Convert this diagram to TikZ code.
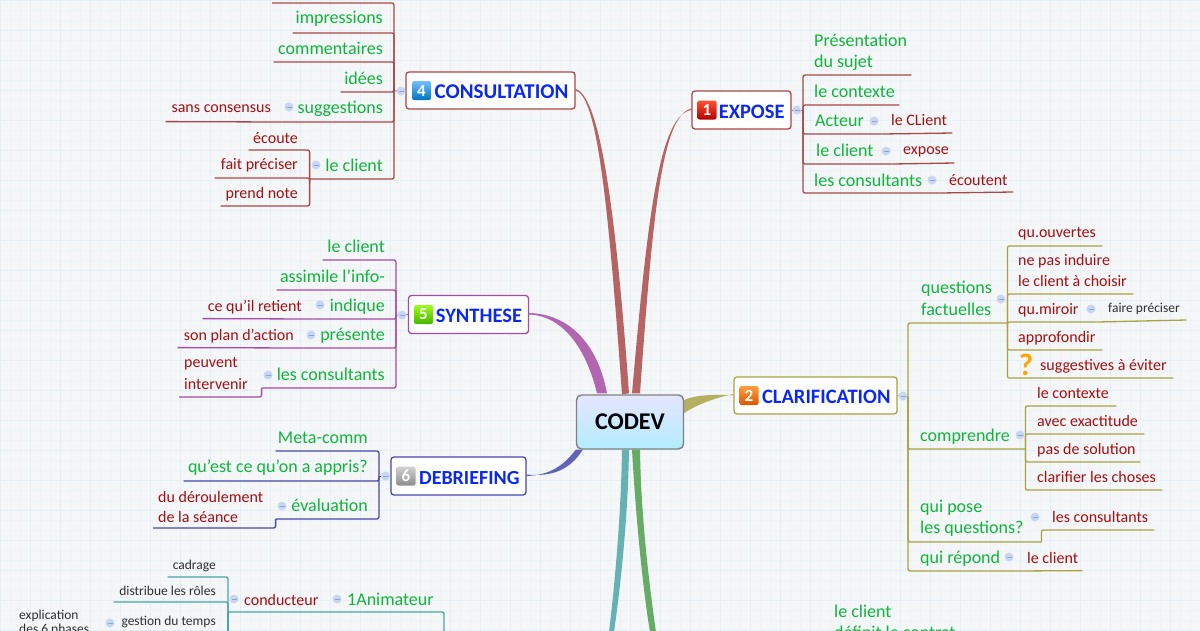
\documentclass[tikz,border=0pt]{standalone}
\usepackage{fontspec}
\setmainfont{Carlito}
\usetikzlibrary{backgrounds,positioning}
\definecolor{sheet}{HTML}{F4F6F8}
\definecolor{gridminor}{HTML}{EEF3F6}
\definecolor{gridmajor}{HTML}{E4EFF6}
\definecolor{topicgreen}{HTML}{10B53C}
\definecolor{topicred}{HTML}{A50F12}
\definecolor{topicblack}{HTML}{303030}
\definecolor{titleblue}{HTML}{0A28F0}
\definecolor{brownline}{HTML}{A84848}
\definecolor{oliveline}{HTML}{A8A244}
\definecolor{purpleline}{HTML}{A54BA5}
\definecolor{indigoline}{HTML}{4848A8}
\definecolor{tealline}{HTML}{4BA5A5}
\definecolor{foldfill}{HTML}{C8D6F0}
\definecolor{folddash}{HTML}{8AA5D5}
\tikzset{
  lt/.style={anchor=south east, text width=#1pt, align=flush right, inner xsep=0pt, inner ysep=3pt, text height=10pt, text depth=4pt},
  rt/.style={anchor=south west, text width=#1pt, align=flush left, inner xsep=0pt, inner ysep=3pt, text height=10pt, text depth=4pt},
  gr/.style={text=topicgreen, font=\fontsize{18}{21}\selectfont},
  re/.style={text=topicred, font=\fontsize{16}{20}\selectfont},
  bk/.style={text=topicblack, font=\fontsize{13.5}{16}\selectfont},
  hub/.style={draw=#1, fill=white, rounded corners=3pt, line width=1.3pt, text=titleblue, align=flush right, inner xsep=6.5pt, inner ysep=0pt, text height=16pt, text depth=0pt, font=\bfseries\fontsize{20.5}{22}\selectfont},
  badge/.style 2 args={rounded corners=2pt, top color=#1, bottom color=#2, text=white, minimum size=19pt, inner sep=0pt, font=\bfseries\fontsize{17}{18}\selectfont},
  fold/.style={circle, fill=foldfill, minimum size=9pt, inner sep=0pt, path picture={\draw[folddash, line width=0.7pt] ([xshift=-2.5pt]path picture bounding box.center) -- ([xshift=2.5pt]path picture bounding box.center);}},
  branch/.style={rounded corners=2pt, line width=1.3pt}
}
\begin{document}
\begin{tikzpicture}[x=1pt, y=-1pt]
  \useasboundingbox (0,0) rectangle (1200,630);
  \clip (0,0) rectangle (1200,630);

  % central topic
  \node[draw=black!50, rounded corners=5pt, line width=1.4pt, top color=blue!10!white, bottom color=blue!25!cyan!30!white, minimum width=107pt, minimum height=54pt, inner sep=0pt, font=\bfseries\fontsize{24}{26}\selectfont] (codev) at (630,422) {CODEV};

  % main topics
  \node[hub=brownline, minimum width=169pt, minimum height=37pt, text width=156pt, font=\bfseries\fontsize{21}{22}\selectfont] (consultation) at (490.5,90.5) {CONSULTATION};
  \node[badge={cyan!55!blue!55!white}{cyan!60!blue!75!black}, right=6.5pt of consultation.west] (badgefour) {4};
  \node[hub=brownline, minimum width=99pt, minimum height=38pt, text width=86pt] (expose) at (741.5,110) {EXPOSE};
  \node[badge={red!70!orange!80!white}{red!70!black}, right=6pt of expose.west] (badgeone) {1};
  \node[hub=oliveline, minimum width=163pt, minimum height=37pt, text width=150pt] (clarification) at (815.5,395.5) {CLARIFICATION};
  \node[badge={orange!75!white}{orange!80!red!85!black}, right=6pt of clarification.west] (badgetwo) {2};
  \node[hub=purpleline, minimum width=120pt, minimum height=38pt, text width=107pt] (synthese) at (468.5,314.5) {SYNTHESE};
  \node[badge={lime!75!green!90!white}{lime!55!green!70!black}, right=6pt of synthese.west] (badgefive) {5};
  \node[hub=indigoline, minimum width=135pt, minimum height=38pt, text width=122pt, font=\bfseries\fontsize{20}{22}\selectfont] (debriefing) at (458.5,476) {DEBRIEFING};
  \node[badge={black!18}{black!45}, right=6pt of debriefing.west] (badgesix) {6};

  % junctions of the brackets
  \coordinate (consbar) at (394,91);
  \coordinate (exposebar) at (803,110);
  \coordinate (clarbar) at (908,396);
  \coordinate (synthbar) at (396,315);
  \coordinate (debrbar) at (379,476);
  \coordinate (animbar) at (444,632);

  % CONSULTATION
  \coordinate (constop) at (272,3);
  \node[lt=90, gr, inner ysep=5.5pt] (impressions) at (383,33) {impressions};
  \node[lt=109, gr] (commentaires) at (383,62) {commentaires};
  \node[lt=42, gr] (idees) at (383,92) {idées};
  \node[lt=101, gr, inner ysep=4.5pt] (suggestions) at (383,122) {suggestions};
  \node[lt=105, re, inner ysep=4.5pt] (consensus) at (271,121.6) {sans consensus};
  \node[lt=73, gr] (leclientc) at (383,179) {le client};
  \node[lt=49, re, inner ysep=2.5pt] (ecoute) at (298,150) {écoute};
  \node[lt=83, re, inner ysep=4.5pt] (faitpreciser) at (298,178) {fait préciser};
  \node[lt=77, re] (prendnote) at (298,206) {prend note};
  \draw[branch, brownline] (consbar) |- (constop);
  \draw[branch, brownline] (consbar) |- (impressions.south west);
  \draw[branch, brownline] (consbar) |- (commentaires.south west);
  \draw[branch, brownline] (consbar) |- (idees.south west);
  \draw[branch, brownline] (consbar) |- (suggestions.south west);
  \draw[branch, brownline] (suggestions.south west) -- (consensus.south west);
  \draw[branch, brownline] (consbar) |- (leclientc.south west);
  \draw[branch, brownline] (leclientc.south west) |- (ecoute.south west);
  \draw[branch, brownline] (leclientc.south west) |- (faitpreciser.south west);
  \draw[branch, brownline] (leclientc.south west) |- (prendnote.south west);
  \draw[brownline, line width=0.8pt] (consultation.west) -- (consbar);

  % EXPOSE
  \node[rt=97, gr, inner ysep=3pt, text depth=25pt] (presentation) at (814,75) {Présentation\\du sujet};
  \node[rt=85, gr] (contexte) at (814,105) {le contexte};
  \node[rt=67, gr] (acteur) at (815,134) {Acteur};
  \node[rt=61, re] (leclient) at (891,133) {le CLient};
  \node[rt=76, gr] (leclientb) at (816,164) {le client};
  \node[rt=51, re, inner ysep=4.5pt] (exposeleaf) at (903,163) {expose};
  \node[rt=125, gr, inner ysep=2pt] (lesconsultants) at (814,193) {les consultants};
  \node[rt=64, re, inner ysep=2pt] (ecoutent) at (949,192) {écoutent};
  \draw[branch, brownline] (exposebar) |- (presentation.south east);
  \draw[branch, brownline] (exposebar) |- (contexte.south east);
  \draw[branch, brownline] (exposebar) |- (acteur.south east);
  \draw[branch, brownline] (acteur.south east) -- (leclient.south east);
  \draw[branch, brownline] (exposebar) |- (leclientb.south east);
  \draw[branch, brownline] (leclientb.south east) -- (exposeleaf.south east);
  \draw[branch, brownline] (exposebar) |- (lesconsultants.south east);
  \draw[branch, brownline] (lesconsultants.south east) -- (ecoutent.south east);
  \draw[brownline, line width=0.8pt] (expose.east) -- (exposebar);

  % CLARIFICATION
  \node[rt=86, gr, text depth=26pt] (questions) at (921,323) {questions\\[1pt]factuelles};
  \node[rt=84, re, inner ysep=4.5pt] (ouvertes) at (1018,246) {qu.ouvertes};
  \node[rt=115, re, text depth=25pt] (induire) at (1018,294) {ne pas induire\\[1pt]le client à choisir};
  \node[rt=79, re] (miroir) at (1018,322) {qu.miroir};
  \node[rt=78, bk] (preciser) at (1108,320) {faire préciser};
  \node[rt=84, re] (approfondir) at (1018,350) {approfondir};
  \node[rt=133, re] (suggestives) at (1040,378) {suggestives à éviter};
  \node[text=orange!70!yellow, inner sep=0pt, font=\bfseries\fontsize{31}{32}\selectfont] (doubt) at (1026,365) {?};
  \node[rt=105, gr] (comprendre) at (920,449) {comprendre};
  \node[rt=79, re] (contexteb) at (1037,406) {le contexte};
  \node[rt=107, re] (exactitude) at (1037,434) {avec exactitude};
  \node[rt=103, re] (solution) at (1037,462) {pas de solution};
  \node[rt=125, re] (clarifier) at (1037,490) {clarifier les choses};
  \node[rt=121, gr, inner ysep=4.5pt, text depth=25pt] (quipose) at (920,542) {qui pose\\les questions?};
  \node[rt=102, re] (consultantsb) at (1052,530) {les consultants};
  \node[rt=95, gr, inner ysep=3.5pt] (quirepond) at (920,571) {qui répond};
  \node[rt=55, re] (clientc) at (1027,570.6) {le client};
  \draw[branch, oliveline] (clarbar) |- (questions.south east);
  \draw[branch, oliveline] (clarbar) |- (comprendre.south east);
  \draw[branch, oliveline] (clarbar) |- (quipose.south east);
  \draw[branch, oliveline] (clarbar) |- (quirepond.south east);
  \draw[branch, oliveline] (questions.south east) |- (ouvertes.south east);
  \draw[branch, oliveline] (questions.south east) |- (induire.south east);
  \draw[branch, oliveline] (questions.south east) |- (miroir.south east);
  \draw[branch, oliveline] (miroir.south east) -- (preciser.south east);
  \draw[branch, oliveline] (questions.south east) |- (approfondir.south east);
  \draw[branch, oliveline] (questions.south east) |- (suggestives.south east);
  \draw[branch, oliveline] (comprendre.south east) |- (contexteb.south east);
  \draw[branch, oliveline] (comprendre.south east) |- (exactitude.south east);
  \draw[branch, oliveline] (comprendre.south east) |- (solution.south east);
  \draw[branch, oliveline] (comprendre.south east) |- (clarifier.south east);
  \draw[branch, oliveline] (quipose.south east) |- (consultantsb.south east);
  \draw[branch, oliveline] (quirepond.south east) -- (clientc.south east);
  \draw[oliveline, line width=0.8pt] (clarification.east) -- (clarbar);

  % SYNTHESE
  \node[lt=62, gr] (leclients) at (385,260) {le client};
  \node[lt=108, gr] (assimile) at (385,290) {assimile l'info-};
  \node[lt=71, gr, inner ysep=3.5pt] (indique) at (385,319) {indique};
  \node[lt=99, re] (retient) at (302,318.6) {ce qu'il retient};
  \node[lt=81, gr] (presente) at (385,348) {présente};
  \node[lt=116, re] (plan) at (294,347.6) {son plan d'action};
  \node[lt=123, gr] (consultantss) at (385,388) {les consultants};
  \node[rt=73, re, inner xsep=5pt, text depth=26pt] (peuvent) at (179,397) {peuvent\\[2pt]intervenir};
  \draw[branch, purpleline] (synthbar) |- (leclients.south west);
  \draw[branch, purpleline] (synthbar) |- (assimile.south west);
  \draw[branch, purpleline] (synthbar) |- (indique.south west);
  \draw[branch, purpleline] (indique.south west) -- (retient.south west);
  \draw[branch, purpleline] (synthbar) |- (presente.south west);
  \draw[branch, purpleline] (presente.south west) -- (plan.south west);
  \draw[branch, purpleline] (synthbar) |- (consultantss.south west);
  \draw[branch, purpleline] (consultantss.south west) |- (peuvent.south west);
  \draw[purpleline, line width=0.8pt] (synthese.west) -- (synthbar);

  % DEBRIEFING
  \node[lt=92, gr, inner ysep=3.5pt] (meta) at (368,451) {Meta-comm};
  \node[lt=184, gr, inner ysep=4pt] (appris) at (368,481) {qu'est ce qu'on a appris?};
  \node[lt=92, gr] (evaluation) at (368,519) {évaluation};
  \node[rt=112, re, inner xsep=5pt, inner ysep=1.5pt, text depth=24pt] (deroulement) at (153,528) {du déroulement\\de la séance};
  \draw[branch, indigoline] (debrbar) |- (meta.south west);
  \draw[branch, indigoline] (debrbar) |- (appris.south west);
  \draw[branch, indigoline] (debrbar) |- (evaluation.south west);
  \draw[branch, indigoline] (evaluation.south west) |- (deroulement.south west);
  \draw[indigoline, line width=0.8pt] (debriefing.west) -- (debrbar);

  % Animateur
  \node[rt=97, gr, inner ysep=2pt] (animateur) at (347,612) {1Animateur};
  \node[rt=86, re, inner ysep=2.5pt] (conducteur) at (244,612) {conducteur};
  \node[lt=48, bk] (cadrage) at (216,577) {cadrage};
  \node[lt=102, bk, inner ysep=2pt] (distribue) at (216,602) {distribue les rôles};
  \node[lt=98, bk] (gestion) at (216,633) {gestion du temps};
  \node[rt=90, bk, anchor=north west, text depth=17pt] (explication) at (19,606) {explication\\[-2pt]des 6 phases};
  \coordinate (condjoint) at (228,612);
  \coordinate (condbar) at (228,632);
  \draw[branch, tealline] (animbar) |- (condjoint);
  \draw[branch, tealline] (condjoint) |- (cadrage.south west);
  \draw[branch, tealline] (condjoint) |- (distribue.south west);
  \draw[branch, tealline] (condjoint) -- (condbar);

  % last branch, cut off by the page
  \node[rt=130, gr, anchor=north west, text depth=25pt] (clientd) at (834,604) {le client\\définit le contrat};

  % collapse marks
  \node[fold] (foldconsa) at (401,91) {};
  \node[fold] (foldconsb) at (289,107) {};
  \node[fold] (foldconsc) at (316,165) {};
  \node[fold] (foldexpa) at (797,110) {};
  \node[fold] (foldexpb) at (874,121) {};
  \node[fold] (foldexpc) at (886,151) {};
  \node[fold] (foldexpd) at (932,180) {};
  \node[fold] (foldclara) at (903,396) {};
  \node[fold] (foldclarb) at (1001,299) {};
  \node[fold] (foldclarc) at (1091,309) {};
  \node[fold] (foldclard) at (1020,435) {};
  \node[fold] (foldclare) at (1035,517) {};
  \node[fold] (foldclarf) at (1009,557) {};
  \node[fold] (foldsyna) at (402,315) {};
  \node[fold] (foldsynb) at (320,305) {};
  \node[fold] (foldsync) at (311,335) {};
  \node[fold] (foldsynd) at (268,375) {};
  \node[fold] (folddeba) at (385.5,476) {};
  \node[fold] (folddebb) at (282,506) {};
  \node[fold] (foldania) at (337,599) {};
  \node[fold] (foldanib) at (234,599) {};
  \node[fold] (foldanic) at (110,623) {};

  % tapered branches behind the central topic
  \begin{scope}[on background layer]
    \fill[sheet] (0,0) rectangle (1200,630);
    \draw[gridminor, line width=0.5pt, step=10pt] (0,0) grid (1200,630);
    \draw[gridmajor, line width=0.7pt, step=30pt] (0,0) grid (1200,630);
    \fill[brownline!85!white] (consultation.east) .. controls (597,96) and (608,200) .. ([xshift=-8pt]codev.north) -- ([xshift=-1pt,yshift=1pt]codev.north) .. controls (615,200) and (599,96) .. ([yshift=1.5pt]consultation.east) -- cycle;
    \fill[brownline!85!white] (expose.west) .. controls (660,115) and (648,210) .. ([xshift=2pt,yshift=1pt]codev.north) -- ([xshift=10pt,yshift=1pt]codev.north) .. controls (653,210) and (662,116) .. ([yshift=1.5pt]expose.west) -- cycle;
    \fill[purpleline!85!white] (synthese.east) .. controls (565,316) and (587,352) .. ([xshift=-33pt,yshift=1pt]codev.north) -- ([xshift=-23pt,yshift=1pt]codev.north) .. controls (598,345) and (570,314) .. ([yshift=1.5pt]synthese.east) -- cycle;
    \fill[indigoline!85!white] (debriefing.east) .. controls (550,475) and (563,466) .. (codev.south west) -- ([xshift=7pt]codev.south west) .. controls (570,470) and (552,477) .. ([yshift=1.5pt]debriefing.east) -- cycle;
    \fill[oliveline!85!white] (clarification.west) .. controls (715,394) and (695,395) .. ([yshift=22pt]codev.east) -- ([yshift=9pt]codev.east) .. controls (698,404) and (715,398) .. ([yshift=1.5pt]clarification.west) -- cycle;
    \coordinate (tealend) at (609,632);
    \coordinate (greenend) at (650,632);
    \fill[tealline!85!white] ([xshift=-8pt]codev.south) .. controls (621,520) and (614,590) .. (tealend) -- ([xshift=5pt]tealend) .. controls (620,590) and (628,520) .. ([xshift=-1pt]codev.south) -- cycle;
    \fill[green!45!black!60!white] ([xshift=2pt]codev.south) .. controls (636,520) and (643,590) .. (greenend) -- ([xshift=6pt]greenend) .. controls (650,590) and (641,520) .. ([xshift=10pt]codev.south) -- cycle;
  \end{scope}
\end{tikzpicture}
\end{document}
